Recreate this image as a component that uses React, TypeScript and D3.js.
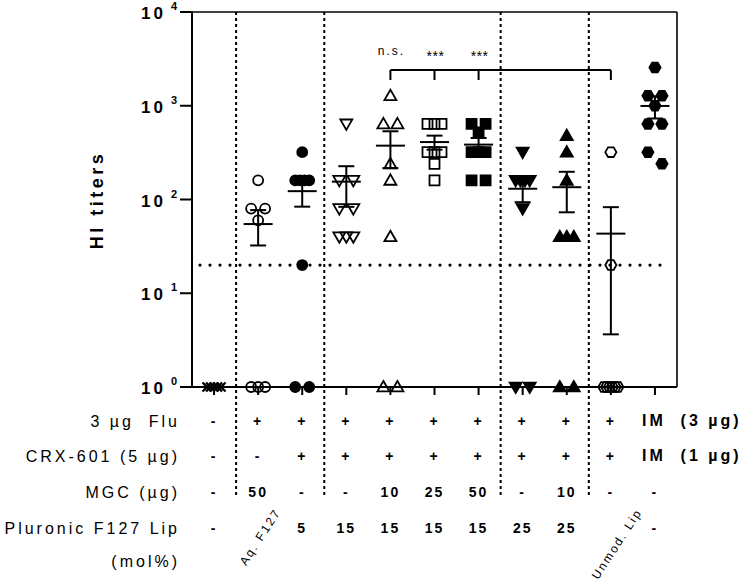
import React from "react";
import * as d3 from "d3";

// ---------- data ----------
const categories = [
  "Naive",
  "Aq. F127",
  "CRX-601",
  "Lip 15",
  "MGC 10",
  "MGC 25",
  "MGC 50",
  "Lip 25",
  "Lip 25 MGC 10",
  "Unmod. Lip",
  "IM",
];

const naive = [1, 1, 1, 1, 1];
const aqF127 = [160, 80, 80, 60, 1, 1, 1];
const crx601 = [320, 160, 160, 160, 160, 20, 1, 1];
const lip15 = [640, 160, 160, 80, 80, 40, 40, 40];
const mgc10 = [1280, 640, 640, 240, 160, 40, 1, 1];
const mgc25 = [640, 640, 640, 320, 320, 320, 240, 160];
const mgc50 = [640, 640, 520, 320, 320, 320, 160, 160];
const lip25 = [320, 160, 160, 160, 160, 80, 1, 1];
const lip25mgc10 = [480, 320, 160, 40, 40, 40, 1, 1];
const unmodLip = [320, 20, 1, 1, 1, 1, 1, 1];
const imGroup = [2560, 1280, 1280, 1000, 640, 640, 320, 240];

const groupValues = [naive, aqF127, crx601, lip15, mgc10, mgc25, mgc50, lip25, lip25mgc10, unmodLip, imGroup];

const markerShapes = [
  "x",
  "circleOpen",
  "circle",
  "triDownOpen",
  "triUpOpen",
  "squareOpen",
  "square",
  "triDown",
  "triUp",
  "hexOpen",
  "hex",
];

const yTicks = [1, 10, 100, 1000, 10000];
const tickExponents = ["0", "1", "2", "3", "4"];
const thresholdValue = 20;

const separatorsAfter = [0, 2, 6, 8];

const sigGroups = [4, 5, 6];
const sigReference = 9;
const sigLabels = ["n.s.", "***", "***"];

const rowLabels = ["3 µg  Flu", "CRX-601 (5 µg)", "MGC (µg)", "Pluronic F127 Lip"];
const rowLabelExtra = "(mol%)";
const fluRow = ["-", "+", "+", "+", "+", "+", "+", "+", "+", "+", "IM  (3 µg)"];
const crxRow = ["-", "-", "+", "+", "+", "+", "+", "+", "+", "+", "IM  (1 µg)"];
const mgcRow = ["-", "50", "-", "-", "10", "25", "50", "-", "10", "-", "-"];
const plurRow = ["-", "", "5", "15", "15", "15", "15", "25", "25", "", "-"];
const tableRows = [fluRow, crxRow, mgcRow, plurRow];
const rotatedIdx = [1, 9];
const rotatedText = ["Aq. F127", "Unmod. Lip"];

// ---------- layout ----------
const W = 750;
const H = 587;
const plotLeft = 192;
const plotRight = 677;
const plotTop = 12;
const plotBottom = 387;
const rowY = [421, 456, 492, 528];
const extraRowY = 561;

const x = d3.scalePoint<string>().domain(categories).range([plotLeft, plotRight]).padding(0.5);
const y = d3.scaleLog().domain([1, 10000]).range([plotBottom, plotTop]);

function shapePath(shape: string): string {
  const p = d3.path();
  if (shape === "x") {
    const a = 4.5;
    p.moveTo(-a, -a); p.lineTo(a, a); p.moveTo(-a, a); p.lineTo(a, -a);
  } else if (shape.startsWith("circle")) {
    p.arc(0, 0, 5, 0, Math.PI * 2);
  } else if (shape.startsWith("triUp")) {
    p.moveTo(0, -6); p.lineTo(6, 4.4); p.lineTo(-6, 4.4); p.closePath();
  } else if (shape.startsWith("triDown")) {
    p.moveTo(0, 6); p.lineTo(6, -4.4); p.lineTo(-6, -4.4); p.closePath();
  } else if (shape.startsWith("square")) {
    p.rect(-5, -5, 10, 10);
  } else if (shape.startsWith("hex")) {
    for (let i = 0; i < 6; i++) {
      const ang = (Math.PI / 3) * i;
      const px = 5.6 * Math.cos(ang);
      const py = 5.6 * Math.sin(ang);
      if (i === 0) p.moveTo(px, py); else p.lineTo(px, py);
    }
    p.closePath();
  }
  return p.toString();
}

// spread equal values horizontally; neighbouring single points that
// would overlap vertically are spread as a pair
function spreadPoints(values: number[]) {
  const groups = Array.from(d3.group(values, (v) => v), ([v, arr]) => ({ v, n: arr.length }));
  groups.sort((a, b) => b.v - a.v);
  const rows: { vs: number[] }[] = [];
  groups.forEach((g) => {
    const last = rows[rows.length - 1];
    if (
      g.n === 1 &&
      last &&
      last.vs.length === 1 &&
      Math.abs(y(last.vs[0]) - y(g.v)) < 13
    ) {
      last.vs.push(g.v);
    } else {
      rows.push({ vs: Array(g.n).fill(g.v) });
    }
  });
  const out: { v: number; dx: number }[] = [];
  rows.forEach((r) => {
    const n = r.vs.length;
    const step = n > 1 ? 14 / (n - 1) : 0;
    r.vs.forEach((v, i) => out.push({ v, dx: (i - (n - 1) / 2) * step }));
  });
  return out;
}

const font = "'Liberation Sans', Arial, sans-serif";

export default function App() {
  const sepX = separatorsAfter.map(
    (i) => ((x(categories[i]) as number) + (x(categories[i + 1]) as number)) / 2
  );
  const bracketY = 70;
  const bx0 = x(categories[sigGroups[0]]) as number;
  const bx1 = x(categories[sigReference]) as number;

  return (
    <svg
      width={W}
      height={H}
      style={{ position: "absolute", left: 0, top: 0, background: "#fff" }}
      fontFamily={font}
    >
      {/* frame */}
      <line x1={plotLeft} x2={plotRight} y1={plotTop} y2={plotTop} stroke="#000" strokeWidth={1.6} />
      <line x1={plotRight} x2={plotRight} y1={plotTop} y2={plotBottom} stroke="#000" strokeWidth={1.6} />
      <line x1={plotLeft} x2={plotLeft} y1={plotTop - 0.8} y2={plotBottom} stroke="#000" strokeWidth={2} />
      <line x1={plotLeft} x2={plotRight} y1={plotBottom} y2={plotBottom} stroke="#000" strokeWidth={2} />

      {/* y ticks */}
      {yTicks.map((t, i) => (
        <g key={t}>
          <line x1={plotLeft - 12} x2={plotLeft} y1={y(t)} y2={y(t)} stroke="#000" strokeWidth={2} />
          <text
            x={166}
            y={y(t) + 7}
            textAnchor="end"
            fontSize={17}
            fontWeight="bold"
            letterSpacing={3}
          >
            10
          </text>
          <text x={171} y={y(t) - 2} fontSize={11} fontWeight="bold">
            {tickExponents[i]}
          </text>
        </g>
      ))}

      {/* y title */}
      <text
        transform={`translate(103, 200) rotate(-90)`}
        textAnchor="middle"
        fontSize={18}
        fontWeight="bold"
        letterSpacing={3.5}
      >
        HI titers
      </text>

      {/* x ticks */}
      {categories.map((c) => (
        <line key={c} x1={x(c)} x2={x(c)} y1={plotBottom} y2={plotBottom + 8} stroke="#000" strokeWidth={2} />
      ))}

      {/* separators */}
      {sepX.map((sx, i) => (
        <line
          key={i}
          x1={sx}
          x2={sx}
          y1={plotTop}
          y2={496}
          stroke="#000"
          strokeWidth={2}
          strokeDasharray="3 3"
        />
      ))}

      {/* threshold */}
      <line
        x1={200}
        x2={668}
        y1={y(thresholdValue)}
        y2={y(thresholdValue)}
        stroke="#000"
        strokeWidth={3.2}
        strokeLinecap="round"
        strokeDasharray="0 10"
      />

      {/* points */}
      {groupValues.map((vals, gi) => {
        const cx = x(categories[gi]) as number;
        const shape = markerShapes[gi];
        const open = shape.endsWith("Open") || shape === "x";
        const d = shapePath(shape);
        return (
          <g key={gi}>
            {spreadPoints(vals).map((p, k) => (
              <path
                key={k}
                d={d}
                transform={`translate(${cx + p.dx}, ${y(p.v)})`}
                fill={open ? "none" : "#000"}
                stroke="#000"
                strokeWidth={shape === "x" ? 2.4 : 1.8}
              />
            ))}
          </g>
        );
      })}

      {/* mean and SEM */}
      {groupValues.map((vals, gi) => {
        const cx = x(categories[gi]) as number;
        const m = d3.mean(vals) as number;
        const sd = d3.deviation(vals) || 0;
        const sem = sd / Math.sqrt(vals.length);
        const lo = Math.max(1, m - sem);
        const hi = m + sem;
        return (
          <g key={gi} stroke="#000" strokeWidth={2}>
            <line x1={cx - 14.5} x2={cx + 14.5} y1={y(m)} y2={y(m)} />
            {sem > 0 && (
              <>
                <line x1={cx} x2={cx} y1={y(lo)} y2={y(hi)} />
                <line x1={cx - 8} x2={cx + 8} y1={y(lo)} y2={y(lo)} />
                <line x1={cx - 8} x2={cx + 8} y1={y(hi)} y2={y(hi)} />
              </>
            )}
          </g>
        );
      })}

      {/* significance bracket */}
      <g stroke="#000" strokeWidth={2} fill="none">
        <line x1={bx0} x2={bx1} y1={bracketY} y2={bracketY} />
        {[...sigGroups, sigReference].map((g) => (
          <line key={g} x1={x(categories[g])} x2={x(categories[g])} y1={bracketY} y2={bracketY + 10} />
        ))}
      </g>
      {sigGroups.map((g, i) => (
        <text
          key={g}
          x={(x(categories[g]) as number) + 1}
          y={sigLabels[i] === "n.s." ? 55 : 61}
          textAnchor="middle"
          fontSize={sigLabels[i] === "n.s." ? 12 : 14}
          letterSpacing={sigLabels[i] === "n.s." ? 2 : 0.5}
        >
          {sigLabels[i]}
        </text>
      ))}

      {/* table */}
      {rowLabels.map((l, i) => (
        <text
          key={l}
          x={180}
          y={rowY[i] + 6}
          textAnchor="end"
          fontSize={16}
          letterSpacing={3}
          style={{ whiteSpace: "pre" }}
        >
          {l}
        </text>
      ))}
      <text x={180} y={extraRowY + 6} textAnchor="end" fontSize={16} letterSpacing={3}>
        {rowLabelExtra}
      </text>

      {tableRows.map((row, ri) =>
        row.map((cell, ci) => {
          if (!cell) return null;
          const cx = x(categories[ci]) as number;
          const isLong = cell.length > 3;
          return (
            <text
              key={`${ri}-${ci}`}
              x={isLong ? cx - 13 : cx}
              y={rowY[ri] + 5}
              textAnchor={isLong ? "start" : "middle"}
              fontSize={isLong ? 16 : 14}
              fontWeight="bold"
              letterSpacing={isLong ? 3 : 2}
              style={{ whiteSpace: "pre" }}
            >
              {cell}
            </text>
          );
        })
      )}

      {rotatedIdx.map((ci, i) => {
        const cx = (x(categories[ci]) as number) + (ci === 9 ? 6 : 2);
        const cy = ci === 9 ? 544 : 537;
        return (
          <text
            key={ci}
            transform={`translate(${cx}, ${cy}) rotate(-57)`}
            textAnchor="middle"
            dy={4}
            fontSize={12}
            letterSpacing={2}
          >
            {rotatedText[i]}
          </text>
        );
      })}
    </svg>
  );
}
